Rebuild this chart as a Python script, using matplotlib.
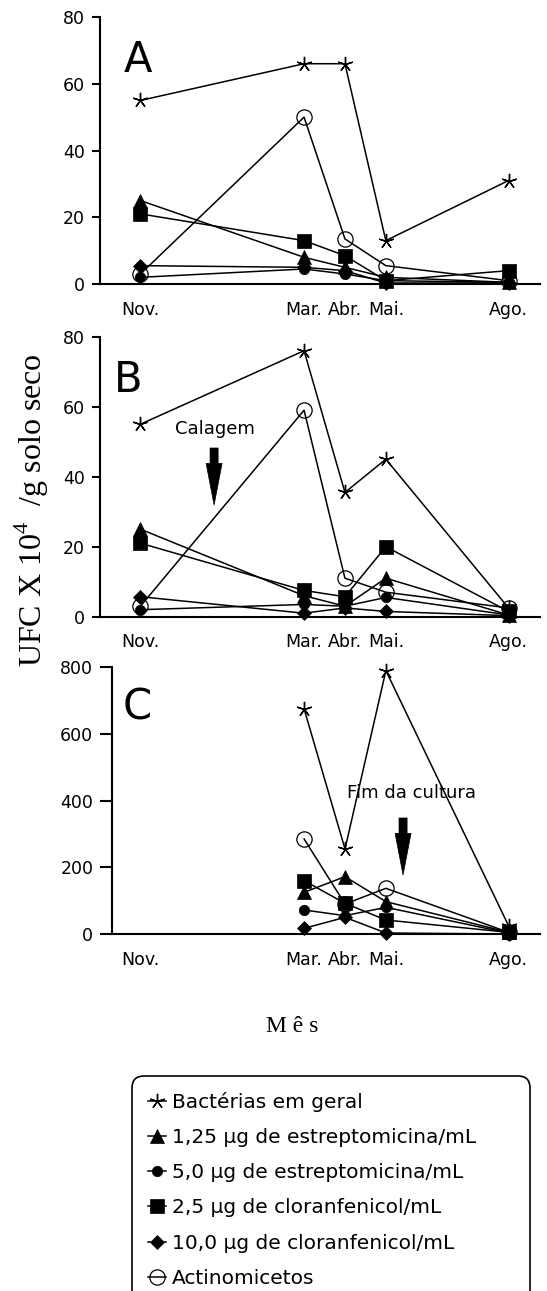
import numpy as np
import matplotlib
matplotlib.use("Agg")
import matplotlib.pyplot as plt

plt.rcParams['font.family'] = ['DejaVu Sans']
plt.rcParams['mathtext.fontset'] = 'custom'
plt.rcParams['mathtext.rm'] = 'Liberation Serif'

# ---------------- data ----------------
months = ["Nov.", "Mar.", "Abr.", "Mai.", "Ago."]
month_pos = [0, 4, 5, 6, 9]   # months elapsed since November

series_labels = ["Bactérias em geral",
                 "1,25 µg de estreptomicina/mL",
                 "5,0 µg de estreptomicina/mL",
                 "2,5 µg de cloranfenicol/mL",
                 "10,0 µg de cloranfenicol/mL",
                 "Actinomicetos"]

# Panel A
a_bact = [55, 66, 66, 13, 31]
a_str125 = [25, 8, 5, 2, 0.5]
a_str50 = [2, 4.5, 3, 1, 0.5]
a_clo25 = [21, 13, 8.5, 1, 4]
a_clo100 = [5.5, 5, 4, 0.3, 0.3]
a_actino = [3, 50, 13.5, 5.5, 1]

# Panel B
b_bact = [55, 76, 35.5, 45, 2.5]
b_str125 = [25, 6, 3, 11, 0.5]
b_str50 = [2, 3.5, 3, 5.5, 0.5]
b_clo25 = [21, 7.5, 5.7, 20, 1.5]
b_clo100 = [5.7, 1, 2.5, 1.5, 0.3]
b_actino = [3, 59, 11, 7, 2.5]

# Panel C (no November sample)
nan = np.nan
c_bact = [nan, 675, 255, 790, 25]
c_str125 = [nan, 125, 172, 97, 5]
c_str50 = [nan, 72, 55, 80, 3]
c_clo25 = [nan, 160, 92, 42, 5]
c_clo100 = [nan, 17, 50, 3, 0]
c_actino = [nan, 285, 90, 137, 5]

a_yticks = [0, 20, 40, 60, 80]
c_yticks = [0, 200, 400, 600, 800]

# ---------------- styles ----------------
styles = [
    dict(marker=(5, 2, 0), ms=11, mew=1.0, mfc='none'),
    dict(marker='^', ms=10, mew=0.5),
    dict(marker='o', ms=7.5, mew=0.5),
    dict(marker='s', ms=10, mew=0.5),
    dict(marker='D', ms=7.5, mew=0.5),
    dict(marker='o', ms=11, mew=0.9, mfc='none'),
]

W, H = 547, 1291
fig = plt.figure(figsize=(W / 100, H / 100), dpi=100)

def fbox(l, t, r, b):
    return [l / W, 1 - b / H, (r - l) / W, (b - t) / H]

axA = fig.add_axes(fbox(100, 17, 540, 284))
axB = fig.add_axes(fbox(100, 336.7, 540, 616.7))
axC = fig.add_axes(fbox(112, 667.3, 540, 934))

panels = [
    (axA, [a_bact, a_str125, a_str50, a_clo25, a_clo100, a_actino], (0, 80), a_yticks, (-0.99, 9.77), "A", (-0.06, 67)),
    (axB, [b_bact, b_str125, b_str50, b_clo25, b_clo100, b_actino], (0, 80), a_yticks, (-0.99, 9.77), "B", (-0.3, 67.6)),
    (axC, [c_bact, c_str125, c_str50, c_clo25, c_clo100, c_actino], (0, 800), c_yticks, (-0.70, 9.77), "C", (-0.09, 678)),
]

handles = []
for ax, series, ylim, yt, xlim, letter, lpos in panels:
    hs = []
    for vals, st in zip(series, styles):
        h, = ax.plot(month_pos, vals, color='black', lw=1.1, mec='black',
                     clip_on=False, **st)
        hs.append(h)
    if not handles:
        handles = hs
    ax.set_ylim(*ylim)
    ax.set_xlim(*xlim)
    ax.set_yticks(yt)
    ax.set_xticks(month_pos)
    ax.set_xticklabels(months)
    for s in ['top', 'right']:
        ax.spines[s].set_visible(False)
    for s in ['left', 'bottom']:
        ax.spines[s].set_linewidth(1.5)
    ax.tick_params(axis='y', direction='out', length=6 if ax is not axC else 8.5,
                   width=1.5, labelsize=12.5, pad=5)
    ax.tick_params(axis='x', length=0, labelsize=12.5, pad=12)
    ax.text(lpos[0], lpos[1], letter, fontsize=30, ha='center', va='center')

# annotations
arrow_style = 'simple,head_length=3.0,head_width=1.15,tail_width=0.58'
axB.text(1.82, 53.6, "Calagem", fontsize=13, ha='center', va='center')
axB.annotate('', xy=(1.8, 31.9), xytext=(1.8, 48.2),
             arrowprops=dict(arrowstyle=arrow_style, fc='black', ec='black',
                             mutation_scale=10, shrinkA=0, shrinkB=0, lw=0.5))
axC.text(6.63, 423, "Fim da cultura", fontsize=13, ha='center', va='center')
axC.annotate('', xy=(6.42, 177), xytext=(6.42, 348),
             arrowprops=dict(arrowstyle=arrow_style, fc='black', ec='black',
                             mutation_scale=10, shrinkA=0, shrinkB=0, lw=0.5))

# axis titles
fig.text(32 / W, 1 - 510 / H, r"UFC X 10$^{\mathrm{4}}$  /g solo seco",
         rotation=90, ha='center', va='center', fontsize=23,
         family='Liberation Serif')
fig.text(292 / W, 1 - 1027 / H, "M ê s", ha='center', va='center',
         fontsize=17, family='Liberation Serif')

# legend
leg = fig.legend(handles, series_labels, loc='upper left',
                 bbox_to_anchor=(132 / W, 1 - 1300 / H, (530 - 132) / W, (1300 - 1076) / H),
                 mode='expand', fontsize=14.5, handlelength=0.9, handletextpad=0.3,
                 borderpad=0.8, labelspacing=0.8, borderaxespad=0,
                 frameon=True, fancybox=True, framealpha=1, edgecolor='black')
leg.get_frame().set_linewidth(1.2)
leg.get_frame().set_boxstyle('round,pad=0,rounding_size=0.6')

fig.savefig("out.png", dpi=100)
